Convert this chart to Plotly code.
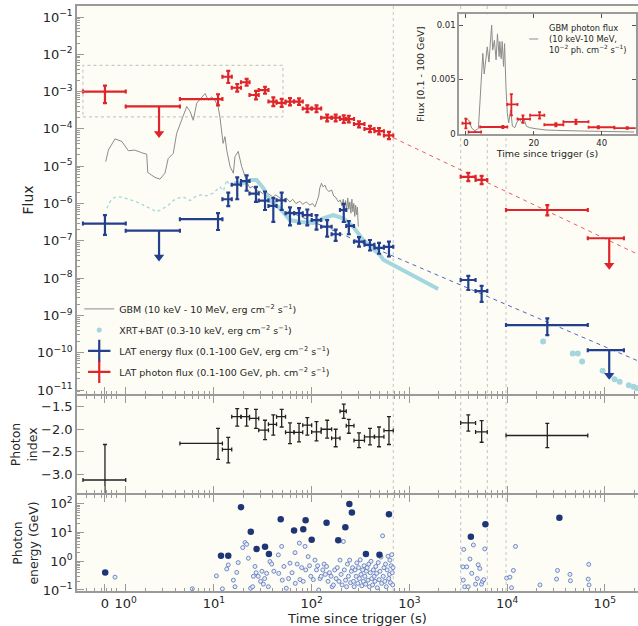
import plotly.graph_objects as go

# ---------------- LAT light-curve bins (time since trigger, s) ----------------
lat_t  = [0.766, 11.0, 14.0, 17.3, 21.6, 26.9, 33.3, 40.5, 49.3, 60.0, 74.2, 90.2,
          112, 144, 176, 213, 240, 305, 395, 489, 618, 4010, 5490, 25800]
lat_lo = [0.456, 4.48, 12.2, 15.2, 18.9, 23.1, 28.7, 36.1, 43.7, 54, 66, 81,
          100, 125, 160, 195, 226, 271, 347, 439, 549, 3350, 4760, 9750]
lat_hi = [1.25, 12.2, 15.2, 18.9, 23.1, 28.7, 36.1, 43.7, 54, 66, 81, 100,
          125, 160, 195, 226, 271, 347, 439, 549, 684, 4760, 6270, 67000]

# LAT photon flux (ph cm-2 s-1)
ph_flux = [1.0e-3, 6.3e-4, 2.5e-3, 1.27e-3, 1.78e-3, 8.1e-4, 1.1e-3, 5.4e-4, 5.0e-4, 5.4e-4,
           5.4e-4, 3.5e-4, 3.5e-4, 2.0e-4, 2.0e-4, 1.84e-4, 1.84e-4, 1.35e-4, 1.0e-4, 8.7e-5,
           6.7e-5, 5.2e-6, 4.3e-6, 6.7e-7]
ph_hi = [1.45e-3, 8.5e-4, 3.6e-3, 1.6e-3, 2.2e-3, 1.05e-3, 1.35e-3, 7.0e-4, 6.4e-4, 6.7e-4,
         6.6e-4, 4.3e-4, 4.3e-4, 2.4e-4, 2.4e-4, 2.3e-4, 2.25e-4, 1.6e-4, 1.2e-4, 1.05e-4,
         8.3e-5, 6.6e-6, 5.5e-6, 9.0e-7]
ph_lo = [4.9e-4, 4.3e-4, 1.7e-3, 1.0e-3, 1.45e-3, 6.2e-4, 8.8e-4, 4.1e-4, 3.9e-4, 4.3e-4,
         4.4e-4, 2.8e-4, 2.8e-4, 1.6e-4, 1.6e-4, 1.45e-4, 1.5e-4, 1.1e-4, 8.2e-5, 7.1e-5,
         5.3e-5, 4.0e-6, 3.3e-6, 4.8e-7]

# LAT energy flux (erg cm-2 s-1)
en_flux = [2.9e-7, 3.8e-7, 1.3e-6, 3.2e-6, 4.0e-6, 1.85e-6, 1.2e-6, 8.6e-7, 1.22e-6, 5.5e-7,
           5.5e-7, 4.9e-7, 3.6e-7, 2.4e-7, 1.5e-7, 6.7e-7, 2.5e-7, 9.5e-8, 7.8e-8, 6.5e-8,
           6.9e-8, 8.9e-9, 4.5e-9, 5.5e-10]
en_hi = [4.9e-7, 5.5e-7, 1.95e-6, 5.0e-6, 5.7e-6, 2.8e-6, 2.1e-6, 1.4e-6, 1.95e-6, 7.9e-7,
         7.5e-7, 6.9e-7, 4.9e-7, 3.6e-7, 2.0e-7, 9.8e-7, 3.4e-7, 1.25e-7, 1.05e-7, 8.8e-8,
         9.5e-8, 1.15e-8, 6.2e-9, 8.3e-10]
en_lo = [1.45e-7, 1.95e-7, 8.5e-7, 1.3e-6, 2.2e-6, 1.1e-6, 6.7e-7, 3.2e-7, 6.7e-7, 2.6e-7,
         2.9e-7, 2.6e-7, 2.0e-7, 1.3e-7, 1.0e-7, 3.2e-7, 1.5e-7, 7.0e-8, 5.5e-8, 4.5e-8,
         3.8e-8, 4.8e-9, 2.3e-9, 2.95e-10]

# Photon index
idx = [-3.13, -2.315, -2.45, -1.72, -1.72, -1.76, -2.02, -1.89, -1.72, -2.07, -2.07, -1.91,
       -2.06, -2.0, -2.2, -1.6, -1.92, -2.25, -2.17, -2.17, -2.03, -1.86, -2.06, -2.14]
idx_hi = [-2.34, -1.98, -2.18, -1.54, -1.54, -1.56, -1.80, -1.68, -1.56, -1.86, -1.87, -1.74,
          -1.83, -1.80, -2.0, -1.44, -1.78, -2.08, -1.98, -1.95, -1.72, -1.68, -1.81, -1.87]
idx_lo = [-3.95, -2.67, -2.75, -1.93, -1.93, -1.98, -2.23, -2.13, -1.95, -2.32, -2.28, -2.13,
          -2.26, -2.20, -2.39, -1.76, -2.09, -2.41, -2.35, -2.39, -2.34, -2.04, -2.29, -2.41]

# Upper limits
ul_t  = [2.74, 111000]
ul_lo = [1.25, 67000]
ul_hi = [4.48, 157000]
ph_ul     = [4.0e-4, 1.17e-7]
ph_ul_tip = [7.5e-5, 2.2e-8]
en_ul     = [1.87e-7, 1.17e-10]
en_ul_tip = [3.7e-8, 2.5e-11]

# Power-law decay fits (dashed)
fit_ph_t = [684, 2.2e5]
fit_ph   = [5.8e-5, 4.3e-8]
fit_en_t = [40, 2.2e5]
fit_en   = [9.3e-7, 6.0e-11]

# GBM energy flux (10 keV - 10 MeV)
gbm_t = [0.78, 0.83, 0.97, 1.14, 1.33, 1.55, 1.82, 2.05, 2.1, 2.49, 2.80, 3.15, 3.4, 3.83,
         4.15, 4.5, 5.26, 5.7, 6.14, 6.66, 7.48, 8.1, 8.75, 9.47, 10.2, 10.6, 11.0, 11.5,
         12.0, 12.4, 12.96, 13.5, 14.6, 15.8, 16.4, 17.7, 19.2, 20.8, 22, 23.3, 25, 27,
         29.6, 32, 34.5, 37.4, 40, 43, 47.3, 51, 55, 59.9, 64, 69, 75.8, 81, 88, 95.9, 102,
         108, 114, 118, 121, 126, 131, 137, 142, 150, 160, 168, 175, 180, 188, 196, 205,
         210, 216, 222, 228, 234, 240, 246, 252, 258, 264, 270, 276, 282, 288, 294, 300]
gbm_f = [1.32e-5, 2.7e-5, 5.4e-5, 4.6e-5, 2.6e-5, 2.7e-5, 2.3e-5, 2.1e-5, 6.8e-6, 5.0e-6,
         4.5e-6, 6.5e-6, 1.6e-5, 2.2e-5, 7.6e-5, 1.4e-4, 4.0e-4, 2.9e-4, 1.7e-4, 4.9e-4,
         7.2e-4, 8.9e-4, 5.9e-4, 7.2e-4, 5.9e-4, 4.9e-4, 4.0e-4, 2.1e-4, 7.6e-5, 4.1e-5,
         6.2e-5, 2.7e-5, 9.8e-6, 6.5e-6, 1.8e-5, 2.5e-5, 9.8e-6, 5.2e-6, 3.5e-6, 2.6e-6,
         2.9e-6, 2.2e-6, 2.1e-6, 1.8e-6, 2.0e-6, 1.7e-6, 1.5e-6, 1.7e-6, 1.4e-6, 1.2e-6,
         1.4e-6, 1.1e-6, 1.3e-6, 1.0e-6, 1.15e-6, 9.5e-7, 1.1e-6, 9.1e-7, 1.0e-6, 8.1e-7,
         1.2e-6, 1.6e-6, 2.6e-6, 3.5e-6, 2.8e-6, 3.1e-6, 2.4e-6, 2.1e-6, 2.3e-6, 1.6e-6,
         1.5e-6, 1.3e-6, 1.1e-6, 1.25e-6, 8.5e-7, 1.3e-6, 7.0e-7, 1.2e-6, 6.5e-7, 1.4e-6,
         7.0e-7, 1.1e-6, 5.5e-7, 1.3e-6, 6.0e-7, 1.0e-6, 4.5e-7, 9.0e-7, 5.0e-7, 8.0e-7, 2.4e-7]

# XRT+BAT (0.3-10 keV)
bat_t = [0.80, 0.86, 0.93, 1.0, 1.1, 1.25, 1.49, 1.75, 2.04, 2.3, 2.6, 3.03, 3.4, 3.83,
         4.3, 4.85, 5.7, 6.4, 7.2, 8.4, 9.84, 11.5, 12.5, 13.5, 14.5, 16]
bat_f = [7.4e-7, 1.1e-6, 1.4e-6, 1.5e-6, 1.5e-6, 1.35e-6, 1.2e-6, 1.0e-6, 8.1e-7, 7.0e-7,
         6.0e-7, 7.4e-7, 9.0e-7, 1.2e-6, 1.4e-6, 1.5e-6, 1.2e-6, 1.5e-6, 1.7e-6, 1.6e-6,
         1.9e-6, 2.8e-6, 2.2e-6, 4.3e-6, 3.0e-6, 3.5e-6]
xrt_t = [16, 20, 24, 27.3, 31.9, 37.4, 47.3, 60, 76, 104, 131, 166, 210, 266, 336, 425, 500,
         541, 796, 1180, 1970]
xrt_f = [3.5e-6, 3.5e-6, 4.3e-6, 4.3e-6, 2.6e-6, 1.2e-6, 7.4e-7, 3.6e-7, 3.2e-7, 3.0e-7,
         4.0e-7, 4.9e-7, 4.0e-7, 2.4e-7, 1.05e-7, 6.3e-8, 4.2e-8, 3.1e-8, 1.8e-8, 1.1e-8, 5.1e-9]
xrt_late_t = [23400, 47000, 53000, 58600, 95000, 112000, 126000, 142000, 176000, 197000, 213000]
xrt_late_f = [2.0e-10, 9.5e-11, 9.5e-11, 5.8e-11, 3.3e-11, 2.5e-11, 1.95e-11, 1.66e-11,
              1.35e-11, 1.23e-11, 1.12e-11]

# Individual LAT photons: energy (GeV) vs arrival time (s)
hi_t = [0.77, 11.8, 14.0, 18.9, 23.8, 27.3, 33.3, 36.5, 48.2, 66, 82, 86.7, 100, 142, 187,
        221, 243, 258, 359, 494, 618, 4260, 6000, 34300]
hi_e = [0.41, 1.55, 1.55, 77, 10.6, 2.7, 3.2, 1.8, 29, 11.8, 13, 27, 5.6, 22, 5.4,
        15.5, 100, 50, 1.8, 1.7, 44, 7.1, 19.5, 33]
lo_t = [0.97, 6.0, 10.6, 12.2, 13.5, 14, 15.8, 16.4, 17.1, 17.7, 19.7, 20.8, 21.6, 22.5,
        23.7, 24.9, 25.3, 26.3, 27, 28.4, 30, 31, 32, 33, 34.6, 36, 37.4, 39, 41, 45.6, 46,
        49.3, 50, 52, 55, 58, 60, 63, 67.5, 68, 71, 74.8, 76, 79, 82, 85.5, 87, 92, 95, 98,
        104, 108, 112, 115, 118, 122, 125, 130, 134, 138, 142, 147, 152, 158, 162, 167, 172,
        178, 183, 190, 195, 200, 205, 211, 216, 222, 228, 232, 238, 245, 250, 255, 262, 268,
        272, 278, 285, 290, 296, 302, 308, 314, 320, 326, 332, 338, 344, 350, 357, 363, 370,
        377, 384, 390, 398, 405, 412, 420, 428, 436, 445, 453, 462, 470, 480, 490, 500, 512,
        520, 532, 540, 550, 560, 570, 580, 592, 605, 615, 625, 632, 640, 650, 660, 668, 675,
        680, 3530, 3560, 3600, 3680, 3860, 4000, 4170, 4350, 4520, 4760, 4950, 5060, 5260,
        5470, 5600, 5780, 5910, 9900, 10700, 11100, 11600, 12200, 21700, 32100, 32800, 44000,
        44500, 67700, 68500, 69000]
lo_e = [0.28, 0.11, 0.31, 0.11, 0.54, 0.75, 0.22, 0.13, 0.41, 0.9, 3.0, 4.5, 3.9, 1.28,
        0.115, 0.13, 0.3, 0.66, 0.4, 0.3, 0.2, 0.45, 0.16, 0.25, 0.38, 0.13, 0.98, 0.8, 0.45,
        1.67, 0.38, 3.3, 0.22, 0.66, 0.115, 0.25, 0.86, 0.4, 2.0, 0.17, 0.8, 4.3, 0.23, 0.6,
        0.2, 3.3, 0.5, 1.46, 0.7, 0.3, 0.23, 1.1, 0.5, 0.7, 0.1, 0.25, 0.3, 0.5, 0.8, 0.35,
        0.66, 0.2, 0.4, 0.3, 0.13, 0.15, 0.5, 0.25, 0.6, 0.2, 1.1, 0.35, 0.15, 4.9, 0.5, 0.22,
        0.13, 0.8, 0.3, 1.1, 0.18, 0.45, 0.6, 0.2, 0.13, 0.5, 0.3, 0.88, 0.17, 0.6, 0.25, 1.12,
        0.35, 0.14, 0.5, 0.2, 0.7, 0.3, 0.16, 0.45, 0.6, 0.22, 0.8, 0.13, 0.4, 1.0, 0.25, 0.15,
        0.5, 0.3, 0.2, 0.66, 0.38, 0.12, 0.9, 0.23, 0.45, 1.4, 0.17, 7.7, 0.3, 0.6, 0.2, 0.8,
        0.13, 0.5, 1.5, 0.25, 0.35, 1.1, 0.18, 0.7, 1.7, 0.4, 0.15, 0.6, 0.64, 0.22, 2.6, 0.13,
        0.64, 0.13, 1.2, 0.38, 3.7, 0.16, 0.25, 0.76, 0.56, 0.16, 0.2, 0.23, 2.7, 0.26, 0.28,
        0.12, 0.48, 3.3, 0.15, 0.24, 0.48, 0.35, 0.21, 0.24, 0.78, 0.15]

# Inset: first 50 s on linear axes
ins_gbm_t = [0, 0.78, 1.75, 2.7, 3.7, 4.2, 4.7, 5.0, 5.4, 5.9, 6.3, 6.8, 7.1, 7.6, 7.9, 8.4,
             8.9, 9.3, 9.8, 10.0, 10.4, 10.7, 11.1, 11.4, 11.8, 12.2, 12.6, 13.2, 13.7, 14.4,
             15.1, 15.9, 16.5, 17.1, 17.8, 18.8, 20.7, 23.7, 26.7, 29.6, 34.5, 39.4, 45.2, 49.5]
ins_gbm_f = [0.00142, 0.00127, 0.0005, 0.00028, 0.0005, 0.0031, 0.0062, 0.0074, 0.0055, 0.0071,
             0.008, 0.0066, 0.0083, 0.01, 0.0077, 0.0086, 0.0068, 0.0092, 0.0071, 0.0085,
             0.0069, 0.0085, 0.0062, 0.0083, 0.0043, 0.0019, 0.001, 0.0022, 0.0007, 0.00056,
             0.0011, 0.0013, 0.001, 0.0014, 0.0007, 0.00056, 0.00046, 0.00034, 0.00031,
             0.00031, 0.00025, 0.00022, 0.00019, 0.00016]
ins_t  = [0, 2.7, 10.9, 13.4, 16.8, 21.7, 26.5, 32.4, 39.0, 47.5]
ins_lo = [-1.0, 0.8, 4.2, 12.2, 15.2, 18.9, 23.1, 28.7, 36.1, 43.7]
ins_hi = [1.3, 4.5, 12.2, 15.2, 18.9, 23.1, 28.7, 36.1, 43.7, 52.0]
ins_f   = [0.00096, 0.00015, 0.00062, 0.0027, 0.00135, 0.0017, 0.00083, 0.0011, 0.0006, 0.00052]
ins_fhi = [0.0014, 0.00015, 0.00072, 0.00365, 0.0017, 0.002, 0.00098, 0.0013, 0.0007, 0.0006]
ins_flo = [0.0005, 0.00015, 0.00052, 0.0017, 0.001, 0.0014, 0.00068, 0.0009, 0.0005, 0.00044]

# Region shown in the inset, and epoch boundaries
zoom_box_t = [0.456, 50.8]
zoom_box_f = [2.1e-4, 5.07e-3]
epoch_t = [684, 3350, 6270, 9750]

# Tick labels
x_tick_t = [0.766, 1.25, 10, 100, 1000, 10000, 100000]
x_tick_text = ["0", "10<sup>0</sup>", "10<sup>1</sup>", "10<sup>2</sup>", "10<sup>3</sup>",
               "10<sup>4</sup>", "10<sup>5</sup>"]
flux_tick_exp = [-1, -2, -3, -4, -5, -6, -7, -8, -9, -10, -11]
energy_tick_exp = [-1, 0, 1, 2]

# ---------------------------------------------------------------------------
def diff(a, b):
    return [x - y for x, y in zip(a, b)]

RED = "#df2529"
BLUE = "#233f8e"
GRAY = "#8c8c8c"
LBLUE = "#a3d6df"
AX = "#9a9a9a"
FONT = "DejaVu Sans"
TXT = "#262626"

fig = go.Figure()

# --- main panel ---
fig.add_trace(go.Scatter(x=fit_ph_t, y=fit_ph, mode="lines", showlegend=False,
                         line=dict(color="#e66060", width=1, dash="4px,4px"), xaxis="x", yaxis="y"))
fig.add_trace(go.Scatter(x=fit_en_t, y=fit_en, mode="lines", showlegend=False,
                         line=dict(color="#5068b5", width=1, dash="4px,4px"), xaxis="x", yaxis="y"))
fig.add_trace(go.Scatter(x=gbm_t, y=gbm_f, mode="lines", name="GBM (10 keV - 10 MeV, erg cm<sup>−2</sup> s<sup>−1</sup>)",
                         line=dict(color=GRAY, width=1), legendgroup="a", xaxis="x", yaxis="y"))
fig.add_trace(go.Scatter(x=bat_t, y=bat_f, mode="lines", showlegend=False,
                         line=dict(color=LBLUE, width=1.3, dash="dot"), xaxis="x", yaxis="y"))
fig.add_trace(go.Scatter(x=xrt_t, y=xrt_f, mode="lines", showlegend=False,
                         line=dict(color=LBLUE, width=4), xaxis="x", yaxis="y"))
fig.add_trace(go.Scatter(x=xrt_late_t, y=xrt_late_f, mode="markers", showlegend=False,
                         marker=dict(color=LBLUE, size=6), xaxis="x", yaxis="y"))

for vals, hi, lo, col in [(en_flux, en_hi, en_lo, BLUE), (ph_flux, ph_hi, ph_lo, RED)]:
    fig.add_trace(go.Scatter(
        x=lat_t, y=vals, mode="markers", showlegend=False,
        marker=dict(size=1, color=col), xaxis="x", yaxis="y",
        error_x=dict(type="data", symmetric=False, array=diff(lat_hi, lat_t),
                     arrayminus=diff(lat_t, lat_lo), color=col, thickness=2.2, width=2),
        error_y=dict(type="data", symmetric=False, array=diff(hi, vals),
                     arrayminus=diff(vals, lo), color=col, thickness=2.2, width=2)))

for ul, tip, col in [(en_ul, en_ul_tip, BLUE), (ph_ul, ph_ul_tip, RED)]:
    fig.add_trace(go.Scatter(
        x=ul_t, y=ul, mode="markers", showlegend=False,
        marker=dict(size=1, color=col), xaxis="x", yaxis="y",
        error_x=dict(type="data", symmetric=False, array=diff(ul_hi, ul_t),
                     arrayminus=diff(ul_t, ul_lo), color=col, thickness=2.2, width=2),
        error_y=dict(type="data", symmetric=False, array=[0] * len(ul),
                     arrayminus=diff(ul, tip), color=col, thickness=2.2, width=0)))
    fig.add_trace(go.Scatter(x=ul_t, y=tip, mode="markers", showlegend=False,
                             marker=dict(symbol="triangle-down", size=9, color=col),
                             xaxis="x", yaxis="y"))

# legend entries
fig.add_trace(go.Scatter(x=[None], y=[None], mode="markers", legendgroup="b",
                         name="XRT+BAT (0.3-10 keV, erg cm<sup>−2</sup> s<sup>−1</sup>)",
                         marker=dict(color=LBLUE, size=5), xaxis="x", yaxis="y"))
fig.add_trace(go.Scatter(x=[None], y=[None], mode="markers", legendgroup="c",
                         name="LAT energy flux (0.1-100 GeV, erg cm<sup>−2</sup> s<sup>−1</sup>)",
                         marker=dict(symbol="cross-thin-open", size=16, color=BLUE,
                                     line=dict(color=BLUE, width=2.2)), xaxis="x", yaxis="y"))
fig.add_trace(go.Scatter(x=[None], y=[None], mode="markers", legendgroup="d",
                         name="LAT photon flux (0.1-100 GeV, ph. cm<sup>−2</sup> s<sup>−1</sup>)",
                         marker=dict(symbol="cross-thin-open", size=16, color=RED,
                                     line=dict(color=RED, width=2.2)), xaxis="x", yaxis="y"))

# --- photon index panel ---
fig.add_trace(go.Scatter(
    x=lat_t, y=idx, mode="markers", showlegend=False, marker=dict(size=1, color="#222"),
    xaxis="x2", yaxis="y2",
    error_x=dict(type="data", symmetric=False, array=diff(lat_hi, lat_t),
                 arrayminus=diff(lat_t, lat_lo), color="#222", thickness=1.3, width=2),
    error_y=dict(type="data", symmetric=False, array=diff(idx_hi, idx),
                 arrayminus=diff(idx, idx_lo), color="#222", thickness=1.3, width=2)))

# --- photon energy panel ---
fig.add_trace(go.Scatter(x=lo_t, y=lo_e, mode="markers", showlegend=False, xaxis="x3", yaxis="y3",
                         marker=dict(size=4, color="#e8edf7", line=dict(color="#5470b8", width=0.8))))
fig.add_trace(go.Scatter(x=hi_t, y=hi_e, mode="markers", showlegend=False, xaxis="x3", yaxis="y3",
                         marker=dict(size=6.5, color="#1f3676")))

# --- inset ---
fig.add_trace(go.Scatter(x=ins_gbm_t, y=ins_gbm_f, mode="lines", showlegend=False,
                         line=dict(color=GRAY, width=1), xaxis="x4", yaxis="y4"))
fig.add_trace(go.Scatter(
    x=ins_t, y=ins_f, mode="markers", showlegend=False, marker=dict(size=1, color=RED),
    xaxis="x4", yaxis="y4",
    error_x=dict(type="data", symmetric=False, array=diff(ins_hi, ins_t),
                 arrayminus=diff(ins_t, ins_lo), color=RED, thickness=1.8, width=1.5),
    error_y=dict(type="data", symmetric=False, array=diff(ins_fhi, ins_f),
                 arrayminus=diff(ins_f, ins_flo), color=RED, thickness=1.8, width=1.5)))

# ---------------------------------------------------------------------------
shapes = []
for t in epoch_t:
    shapes.append(dict(type="line", xref="x", yref="paper", x0=t, x1=t, y0=0, y1=1,
                       line=dict(color="#c4c4c4", width=1, dash="dot"), layer="below"))
shapes.append(dict(type="rect", xref="x", yref="y", x0=zoom_box_t[0], x1=zoom_box_t[1],
                   y0=zoom_box_f[0], y1=zoom_box_f[1],
                   line=dict(color="#bdbdbd", width=1, dash="dot"), layer="below"))
shapes.append(dict(type="line", xref="paper", yref="paper", x0=0.806, x1=0.822, y0=0.9436, y1=0.9436,
                   line=dict(color=GRAY, width=1)))

common_x = dict(type="log", range=[-0.402, 5.34], showline=True, linecolor=AX, linewidth=1.5,
                ticks="inside", ticklen=7, tickcolor=AX, showgrid=False, zeroline=False,
                automargin=False,
                tickmode="array", tickvals=x_tick_t, ticktext=x_tick_text,
                minor=dict(ticks="inside", ticklen=3.5, tickcolor=AX, dtick="D1", showgrid=False))

fig.update_layout(
    width=638, height=626,
    margin=dict(l=77, r=0, t=6, b=35, autoexpand=False),
    paper_bgcolor="white", plot_bgcolor="#fdfdf6",
    font=dict(family=FONT, size=13, color=TXT),
    showlegend=True,
    legend=dict(x=0.004, y=0.507, xanchor="left", yanchor="top", bgcolor="rgba(0,0,0,0)",
                font=dict(size=9.5, family=FONT, color=TXT), traceorder="grouped",
                tracegroupgap=2, itemwidth=30),
    xaxis=dict(common_x, domain=[0, 1], anchor="y", showticklabels=False, mirror=True),
    xaxis2=dict(common_x, domain=[0, 1], anchor="y2", showticklabels=False, mirror="ticks", matches="x"),
    xaxis3=dict(common_x, domain=[0, 1], anchor="y3", showticklabels=True, mirror="ticks", matches="x",
                title=dict(text="Time since trigger (s)", font=dict(size=13), standoff=0),
                tickfont=dict(size=13)),
    yaxis=dict(type="log", domain=[0.33675, 1.0], range=[-11.107, -0.705], anchor="x",
               automargin=False,
               showline=True, linecolor=AX, linewidth=1.5, ticks="inside", ticklen=7, tickcolor=AX,
               tickmode="array", tickvals=[10 ** e for e in flux_tick_exp],
               ticktext=["10<sup>−%d</sup>" % (-e) for e in flux_tick_exp],
               minor=dict(ticks="inside", ticklen=3.5, tickcolor=AX, dtick="D1", showgrid=False),
               showgrid=False, zeroline=False, title=dict(text="Flux", font=dict(size=14), standoff=0)),
    yaxis2=dict(domain=[0.16752, 0.33333], range=[-3.42, -1.26], anchor="x2", automargin=False,
                showline=True, linecolor=AX, linewidth=1.5, ticks="inside", ticklen=7, tickcolor=AX,
                tickmode="array", tickvals=[-1.5, -2.0, -2.5, -3.0], tickformat=".1f",
                showgrid=False, zeroline=False,
                title=dict(text="Photon<br>index", font=dict(size=12.5), standoff=1)),
    yaxis3=dict(type="log", domain=[0, 0.16410], range=[-1.035, 2.31], anchor="x3", automargin=False,
                showline=True, linecolor=AX, linewidth=1.5, ticks="inside", ticklen=7, tickcolor=AX,
                tickmode="array", tickvals=[10 ** e for e in energy_tick_exp],
                ticktext=["10<sup>−1</sup>", "10<sup>0</sup>", "10<sup>1</sup>", "10<sup>2</sup>"],
                minor=dict(ticks="inside", ticklen=3.5, tickcolor=AX, dtick="D1", showgrid=False),
                showgrid=False, zeroline=False,
                title=dict(text="Photon<br>energy (GeV)", font=dict(size=12.5), standoff=1)),
    xaxis4=dict(domain=[0.681, 0.996], anchor="y4", range=[-2, 50], showline=True, mirror="ticks",
                automargin=False,
                linecolor=AX, linewidth=1.5, ticks="inside", ticklen=4, tickcolor="#555",
                tickvals=[0, 20, 40], showgrid=False, zeroline=False, tickfont=dict(size=8.5),
                title=dict(text="Time since trigger (s)", font=dict(size=9.5), standoff=0)),
    yaxis4=dict(domain=[0.7807, 0.9858], anchor="x4", range=[-0.00005, 0.011], showline=True,
                automargin=False,
                mirror="ticks", linecolor=AX, linewidth=1.5, ticks="inside", ticklen=4,
                tickcolor="#555", tickvals=[0, 0.005, 0.01], ticktext=["0", "0.005", "0.01"],
                showgrid=False, zeroline=False, tickfont=dict(size=8.5),
                title=dict(text="Flux [0.1 - 100 GeV]", font=dict(size=9.5), standoff=5)),
    shapes=shapes,
    annotations=[dict(xref="paper", yref="paper", x=0.838, y=0.975, xanchor="left", yanchor="top",
                      align="left", showarrow=False, font=dict(size=8.3, color=TXT),
                      text="GBM photon flux<br>(10 keV-10 MeV,<br>10<sup>−2</sup> ph. cm<sup>−2</sup> s<sup>−1</sup>)")],
)

fig.write_html("out.html", config={"displayModeBar": False},
               post_script="document.body.style.margin='0';document.body.style.overflow='hidden';")
